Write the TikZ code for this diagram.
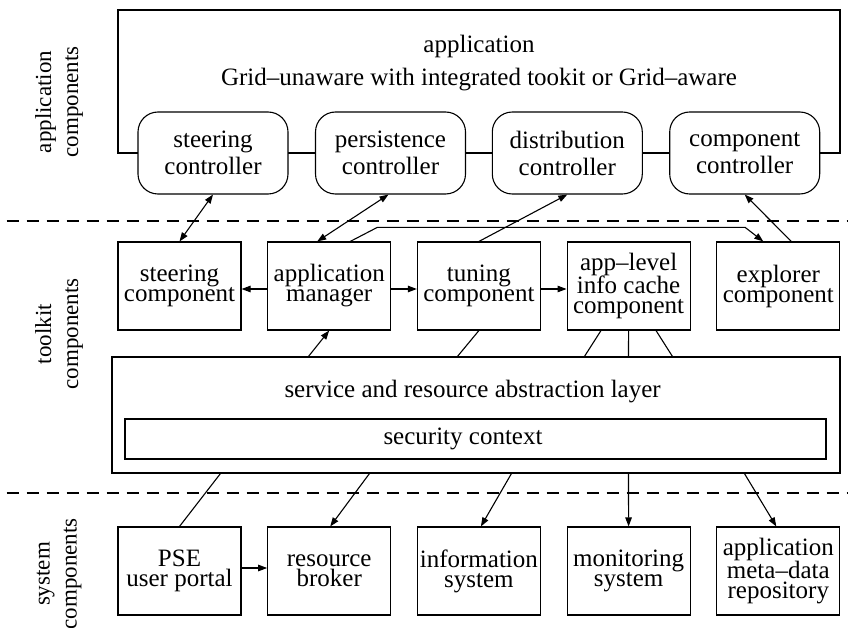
\documentclass[tikz,border=0pt]{standalone}
\usepackage{fontspec}
\setmainfont{Liberation Serif}
\usetikzlibrary{arrows.meta,calc}
\begin{document}
\begin{tikzpicture}[x=1pt,y=-1pt,line width=1.1pt,
  >={Triangle[length=9pt,width=6.5pt]},
  txt/.style={inner sep=0pt,align=center,font=\fontsize{25}{20}\selectfont},
  ctrl/.style={draw,fill=white,rounded corners=20pt,minimum width=150pt,minimum height=82pt,inner sep=0pt,align=center,font=\fontsize{25}{27}\selectfont},
  comp/.style={draw,minimum width=123pt,minimum height=88pt,inner sep=0pt,align=center,font=\fontsize{25}{20}\selectfont},
  sidelabel/.style={rotate=90,inner sep=0pt,align=center,font=\fontsize{23}{27}\selectfont},
  sep/.style={dash pattern=on 12.5pt off 7.5pt}]
\useasboundingbox (0,0) rectangle (848,628);

% application box
\draw (118,10) rectangle (840,153);
\node[txt,font=\fontsize{25}{33}\selectfont] (apptitle) at (479,62.7) {application\\Grid--unaware with integrated tookit or Grid--aware};

% controllers
\node[ctrl] (stc) at (213,153) {steering\\controller};
\node[ctrl] (pc) at (390.5,153) {persistence\\controller};
\node[ctrl] (dc) at (567.3,153) {distribution\\controller};
\node[ctrl] (cc) at (744.7,153) {component\\controller};

% separators
\draw[sep] (6.7,221) -- (848,221);
\draw[sep] (6.7,493) -- (848,493);

% side labels
\node[sidelabel] (lapp) at (59,102) {application\\components};
\node[sidelabel] (ltk) at (59,334) {toolkit\\components};
\node[sidelabel] (lsys) at (59,574) {system\\components};

% toolkit components
\node[comp] (stcomp) at (179.5,286) {steering\\component};
\node[comp] (mgr) at (329.2,286) {application\\manager};
\node[comp] (tun) at (478.9,286) {tuning\\component};
\node[comp] (alc) at (628.6,286) {app--level\\info cache\\component};
\node[comp] (exp) at (778.3,286) {explorer\\component};

% abstraction layer
\node[draw,minimum width=728pt,minimum height=116pt,inner sep=0pt] (layer) at (476,415) {};
\node[txt] (layertxt) at (472.6,391.2) {service and resource abstraction layer};
\node[draw,minimum width=701pt,minimum height=40pt,inner sep=0pt] (sec) at (475.5,439) {};
\node[txt] (sectxt) at (463,439) {security context};

% system components
\node[comp] (pse) at (179.5,571) {PSE\\user portal};
\node[comp] (rb) at (329.2,571) {resource\\broker};
\node[comp] (info) at (478.9,571) {information\\system};
\node[comp] (mon) at (628.6,571) {monitoring\\system};
\node[comp] (meta) at (778.3,571) {application\\meta--data\\repository};

% connectors: toolkit <-> application
\draw[<->] (stcomp.north) -- (stc.south);
\draw[<->] ([xshift=-12pt]mgr.north) -- ([xshift=-2pt]pc.south);
\draw[->] (tun.north) -- (dc.south);
\draw[->] ([xshift=13pt]exp.north) -- (cc.south);
\draw[->] ([xshift=21pt]mgr.north) -- ++(27,-14) -| ++(368,0) -- ([xshift=-15pt]exp.north);

% horizontal toolkit arrows
\draw[->] ([yshift=-3pt]mgr.west) -- ([yshift=-3pt]stcomp.east);
\draw[->] ([yshift=-3pt]mgr.east) -- ([yshift=-3pt]tun.west);
\draw[->] ([yshift=-3pt]tun.east) -- ([yshift=-3pt]alc.west);

% layer <-> toolkit
\draw[->] ([xshift=197pt]layer.north west) -- (mgr.south);
\draw (tun.south) -- ([xshift=346pt]layer.north west);
\draw ([xshift=-27.6pt]alc.south) -- ([xshift=473pt]layer.north west);
\draw (alc.south) -- ([xshift=517pt]layer.north west);
\draw ([xshift=27.4pt]alc.south) -- ([xshift=561pt]layer.north west);

% layer -> system
\draw ([xshift=109pt]layer.south west) -- (pse.north);
\draw[->] ([xshift=258pt]layer.south west) -- ([xshift=1pt]rb.north);
\draw[->] ([xshift=400pt]layer.south west) -- ([xshift=2pt]info.north);
\draw[->] ([xshift=517pt]layer.south west) -- (mon.north);
\draw[->] ([xshift=633pt]layer.south west) -- ([xshift=-2pt]meta.north);
\draw[->] ([yshift=3pt]pse.east) -- ([yshift=3pt]rb.west);
\end{tikzpicture}
\end{document}
